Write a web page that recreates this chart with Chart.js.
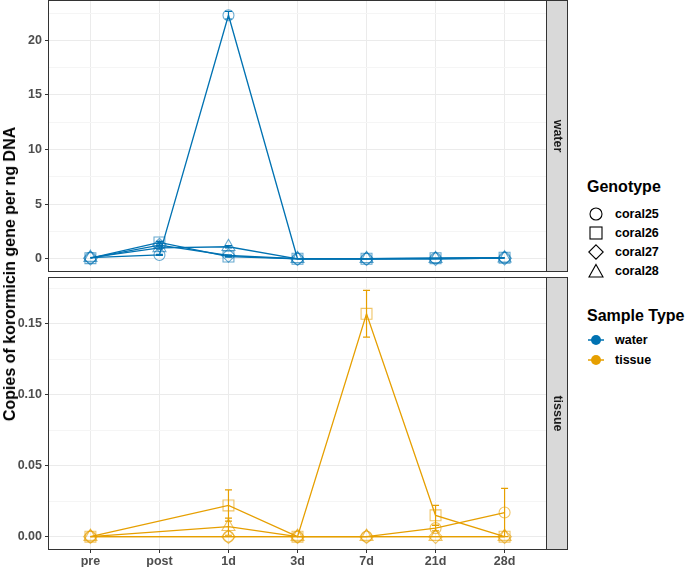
<!DOCTYPE html>
<html>
<head>
<meta charset="utf-8">
<script src="https://cdn.jsdelivr.net/npm/chart.js@4.4.1/dist/chart.umd.min.js"></script>
<style>
body { margin: 0; background: #fff; font-family: "Liberation Sans", Arial, sans-serif; }
#wrap { position: relative; width: 685px; height: 567px; overflow: hidden; }
#c1 { position: absolute; left: 0; top: 0; }
#c2 { position: absolute; left: 0; top: 277px; }
#ytitle { position: absolute; left: 10px; top: 274px; transform: translate(-50%, -50%) rotate(-90deg);
  white-space: nowrap; font-weight: bold; font-size: 16px; color: #000; }
.lg { position: absolute; transform: translateY(-50%); white-space: nowrap; font-weight: bold; color: #000; }
.lt { font-size: 16px; }
.li { font-size: 12.5px; }
.key { position: absolute; transform: translate(-50%, -50%); }
</style>
</head>
<body>
<div id="wrap">
  <canvas id="c1" width="570" height="272"></canvas>
  <canvas id="c2" width="570" height="290"></canvas>
  <div id="ytitle">Copies of korormicin gene per ng DNA</div>
  <div id="legend"></div>
</div>
<script>
// --- data ---
var timepoints = ['pre', 'post', '1d', '3d', '7d', '21d', '28d'];
var genotypes = ['coral25', 'coral26', 'coral27', 'coral28'];
var sampleTypes = ['water', 'tissue'];

var waterCoral25 = [0.1, 0.35, 22.3, 0, 0, 0.05, 0.1];
var waterCoral26 = [0.05, 1.5, 0.2, 0, 0, 0.05, 0.1];
var waterCoral27 = [0.05, 1.25, 0.3, 0, 0, 0, 0.05];
var waterCoral28 = [0.1, 1.0, 1.1, 0, 0, 0, 0.05];
var waterErr25 = [0, 0.05, 0.35, 0, 0, 0, 0];
var waterErr26 = [0, 0.1, 0.05, 0, 0, 0, 0];
var waterErr27 = [0, 0.1, 0.05, 0, 0, 0, 0];
var waterErr28 = [0, 0.1, 0.1, 0, 0, 0, 0];

var tissueCoral25 = [0, null, 0, 0, 0, 0.006, 0.017];
var tissueCoral26 = [0, null, 0.022, 0, 0.157, 0.015, 0];
var tissueCoral27 = [0, null, 0, 0, 0, 0, 0];
var tissueCoral28 = [0, null, 0.007, 0, 0, 0, 0];
var tissueErr25 = [0, null, 0, 0, 0, 0.002, 0.017];
var tissueErr26 = [0, null, 0.011, 0, 0.0165, 0.007, 0];
var tissueErr27 = [0, null, 0, 0, 0, 0, 0];
var tissueErr28 = [0, null, 0.006, 0, 0, 0, 0];

var waterTicks = [0, 5, 10, 15, 20];
var tissueTicks = [0, 0.05, 0.10, 0.15];

// --- style ---
var colors = { water: '#0072B2', tissue: '#E69F00' };
var pointFill = { water: 'rgba(0,114,178,0.6)', tissue: 'rgba(230,159,0,0.6)' };
var shapes = ['circle', 'rect', 'rectRot', 'triangle'];
var radii = [5.5, 7.7, 6.8, 7.5];
var FONT = '"Liberation Sans", Arial, sans-serif';

function makeDatasets(type, series, errs) {
  return series.map(function (vals, g) {
    return {
      label: genotypes[g],
      data: vals.map(function (v, i) { return { x: i, y: v }; }),
      errors: errs[g],
      borderColor: colors[type],
      borderWidth: 1.3,
      pointStyle: shapes[g],
      pointRadius: radii[g],
      pointBorderColor: pointFill[type],
      pointBackgroundColor: 'rgba(0,0,0,0)',
      pointBorderWidth: 1.1,
      spanGaps: true,
      tension: 0
    };
  });
}

var errorBars = {
  id: 'errorBars',
  afterDatasetsDraw: function (chart) {
    var ctx = chart.ctx, xs = chart.scales.x, ys = chart.scales.y;
    chart.data.datasets.forEach(function (ds) {
      ctx.save();
      ctx.strokeStyle = ds.borderColor;
      ctx.lineWidth = 1.2;
      ds.data.forEach(function (p, i) {
        var e = ds.errors[i];
        if (p.y === null || !e) return;
        var x = xs.getPixelForValue(p.x);
        var t = ys.getPixelForValue(p.y + e), b = ys.getPixelForValue(p.y - e);
        ctx.beginPath();
        ctx.moveTo(x, t); ctx.lineTo(x, b);
        ctx.moveTo(x - 3.5, t); ctx.lineTo(x + 3.5, t);
        ctx.moveTo(x - 3.5, b); ctx.lineTo(x + 3.5, b);
        ctx.stroke();
      });
      ctx.restore();
    });
  }
};

var panelFrame = {
  id: 'panelFrame',
  afterDraw: function (chart, args, opts) {
    var a = chart.chartArea, ctx = chart.ctx;
    ctx.save();
    ctx.strokeStyle = '#333333';
    ctx.lineWidth = 1;
    ctx.strokeRect(Math.round(a.left) - 0.5, Math.round(a.top) - 0.5,
      Math.round(a.right - a.left) + 1, Math.round(a.bottom - a.top) + 1);
    // strip
    var sx = Math.round(a.right) + 0.5, sw = 21;
    ctx.fillStyle = '#D9D9D9';
    ctx.fillRect(sx, Math.round(a.top) - 0.5, sw, Math.round(a.bottom - a.top) + 1);
    ctx.strokeRect(sx, Math.round(a.top) - 0.5, sw, Math.round(a.bottom - a.top) + 1);
    ctx.translate(sx + sw / 2, (a.top + a.bottom) / 2);
    ctx.rotate(Math.PI / 2);
    ctx.fillStyle = '#1A1A1A';
    ctx.font = 'bold 12.5px ' + FONT;
    ctx.textAlign = 'center';
    ctx.textBaseline = 'middle';
    ctx.fillText(opts.text, 0, 0);
    ctx.restore();
  }
};

function withMinor(major) {
  var step = major[1] - major[0];
  var all = [];
  major.forEach(function (v) {
    all.push({ value: v });
    all.push({ value: v + step / 2, minor: true });
  });
  return all;
}

function makeChart(id, type, datasets, yMin, yMax, major, fmt, showX) {
  return new Chart(document.getElementById(id), {
    type: 'line',
    data: { datasets: datasets },
    plugins: [errorBars, panelFrame],
    options: {
      responsive: false,
      animation: false,
      events: [],
      layout: { autoPadding: false, padding: { top: 1, bottom: showX ? 0 : 1, left: 0, right: 24 } },
      plugins: { legend: { display: false }, tooltip: { enabled: false }, panelFrame: { text: type } },
      scales: {
        x: {
          type: 'linear', min: -0.6, max: 6.6,
          afterBuildTicks: function (s) { s.ticks = timepoints.map(function (t, i) { return { value: i }; }); },
          afterFit: function (s) { s.height = showX ? 18 : 0; s.paddingLeft = 0; s.paddingRight = 0; },
          border: { display: false },
          grid: { color: '#EBEBEB', lineWidth: 1, drawTicks: showX, tickLength: 4, tickColor: '#333333' },
          ticks: {
            display: showX, autoSkip: false, maxRotation: 0, padding: 1,
            color: '#4D4D4D', font: { family: FONT, size: 12.5, weight: 'bold' },
            callback: function (v) { return timepoints[v]; }
          }
        },
        y: {
          type: 'linear', min: yMin, max: yMax,
          afterBuildTicks: function (s) {
            s.ticks = withMinor(major).filter(function (t) { return t.value >= yMin && t.value <= yMax; });
          },
          afterFit: function (s) { s.width = 49; s.paddingTop = 0; s.paddingBottom = 0; },
          border: { display: false },
          grid: {
            color: function (c) { return c.tick && c.tick.minor ? '#F5F5F5' : '#EBEBEB'; },
            lineWidth: 1, tickLength: 4,
            tickColor: function (c) { return c.tick && c.tick.minor ? 'rgba(0,0,0,0)' : '#333333'; }
          },
          ticks: {
            autoSkip: false, padding: 3,
            color: '#4D4D4D', font: { family: FONT, size: 12.5, weight: 'bold' },
            callback: function (v, i, ticks) { return ticks[i].minor ? '' : fmt(v); }
          }
        }
      }
    }
  });
}

makeChart('c1', 'water',
  makeDatasets('water', [waterCoral25, waterCoral26, waterCoral27, waterCoral28],
    [waterErr25, waterErr26, waterErr27, waterErr28]),
  -1.12, 23.6, waterTicks, function (v) { return String(v); }, false);

makeChart('c2', 'tissue',
  makeDatasets('tissue', [tissueCoral25, tissueCoral26, tissueCoral27, tissueCoral28],
    [tissueErr25, tissueErr26, tissueErr27, tissueErr28]),
  -0.0087, 0.1822, tissueTicks, function (v) { return v.toFixed(2); }, true);

// --- legend ---
var svgShapes = [
  '<circle cx="8" cy="8" r="6" fill="none" stroke="#000" stroke-width="1.1"/>',
  '<rect x="2" y="2" width="12" height="12" fill="none" stroke="#000" stroke-width="1.1"/>',
  '<polygon points="8,0.8 15.2,8 8,15.2 0.8,8" fill="none" stroke="#000" stroke-width="1.1"/>',
  '<polygon points="8,1.5 15,14 1,14" fill="none" stroke="#000" stroke-width="1.1"/>'
];
var html = '<div class="lg lt" style="left:587px;top:187px">Genotype</div>';
var gy = [214, 233, 252, 271];
genotypes.forEach(function (g, i) {
  html += '<svg class="key" style="left:596px;top:' + gy[i] + 'px" width="16" height="16">' + svgShapes[i] + '</svg>';
  html += '<div class="lg li" style="left:615px;top:' + gy[i] + 'px">' + g + '</div>';
});
html += '<div class="lg lt" style="left:587px;top:316px">Sample Type</div>';
var sy = [340, 360];
sampleTypes.forEach(function (t, i) {
  html += '<svg class="key" style="left:596px;top:' + sy[i] + 'px" width="18" height="14">' +
    '<line x1="1" y1="7" x2="17" y2="7" stroke="' + colors[t] + '" stroke-width="1.5"/>' +
    '<circle cx="9" cy="7" r="5" fill="' + colors[t] + '"/></svg>';
  html += '<div class="lg li" style="left:615px;top:' + sy[i] + 'px">' + t + '</div>';
});
document.getElementById('legend').innerHTML = html;
</script>
</body>
</html>
